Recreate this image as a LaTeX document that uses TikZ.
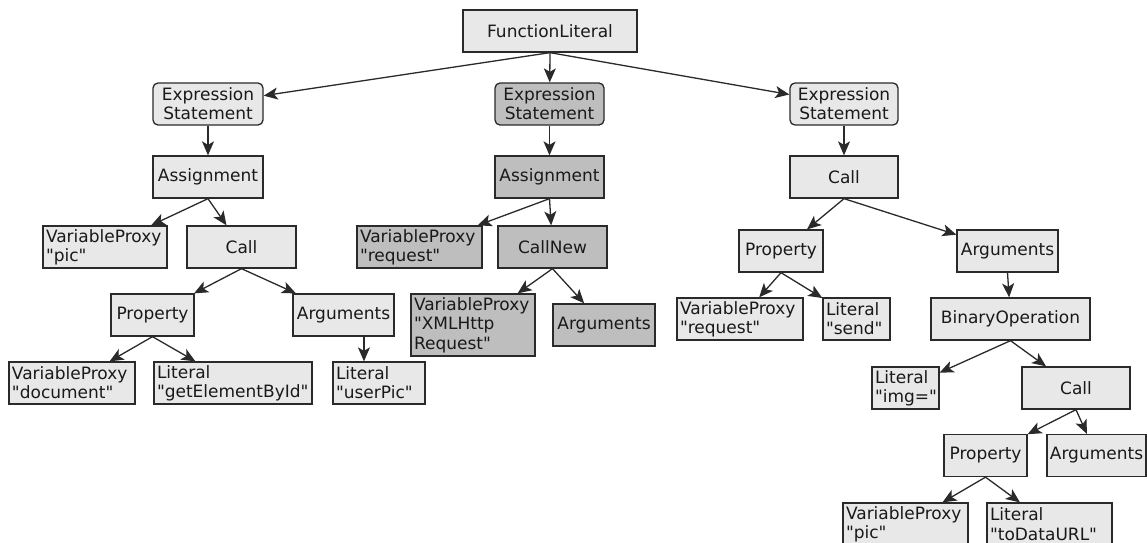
\documentclass[tikz,border=0pt]{standalone}
\usepackage{fontspec}
\newfontfamily\nodefont{DejaVu Sans}
\usetikzlibrary{arrows.meta,calc}
\definecolor{nodelight}{HTML}{E8E8E8}
\definecolor{nodedark}{HTML}{BEBEBE}
\definecolor{inkline}{HTML}{2A2A2A}
\begin{document}
\begin{tikzpicture}[x=1pt,y=-1pt,
  box/.style={draw=inkline, line width=1.3pt, fill=nodelight, inner sep=0pt,
    minimum height=42pt, font=\nodefont\fontsize{17}{19.3}\selectfont, text=black!90},
  dark/.style={fill=nodedark},
  stmt/.style={box, rounded corners=5pt, align=center},
  leaf/.style={box, align=left, inner xsep=3pt},
  arr/.style={draw=inkline, line width=1.3pt,
    -{Stealth[length=14pt,width=12pt,inset=3.5pt]}}]
\useasboundingbox (0,0) rectangle (1147,542);
\clip (0,0) rectangle (1147,542);

% root
\node[box, minimum width=174pt] (fl) at (550,31) {FunctionLiteral};

% statements
\node[stmt, minimum width=110pt] (es1) at (208,104) {Expression\\Statement};
\node[stmt, dark, minimum width=109pt] (es2) at (549.5,104) {Expression\\Statement};
\node[stmt, minimum width=108pt] (es3) at (844,104) {Expression\\Statement};

% first statement: pic = document.getElementById("userPic")
\node[box, minimum width=110pt] (as1) at (208,177) {Assignment};
\node[leaf, text width=118pt] (vppic) at (105,247) {VariableProxy\\"pic"};
\node[box, minimum width=109pt] (call1) at (241.5,247) {Call};
\node[box, minimum width=83pt] (prop1) at (152.5,315) {Property};
\node[box, minimum width=101pt] (args1) at (343.5,315) {Arguments};
\node[leaf, text width=120pt] (vpdoc) at (72,383) {VariableProxy\\"document"};
\node[leaf, text width=152pt] (litgebi) at (233,383) {Literal\\"getElementById"};
\node[leaf, text width=86pt] (lituser) at (379,383) {Literal\\"userPic"};

% second statement: request = new XMLHttpRequest()
\node[box, dark, minimum width=109pt] (as2) at (549.5,177) {Assignment};
\node[leaf, dark, text width=119pt] (vpreq) at (419.5,247) {VariableProxy\\"request"};
\node[box, dark, minimum width=109pt] (callnew) at (552.5,247) {CallNew};
\node[leaf, dark, text width=118pt, minimum height=62pt] (vpxhr) at (473,325) {VariableProxy\\"XMLHttp\\Request"};
\node[box, dark, minimum width=102pt] (args2) at (604,325) {Arguments};

% third statement: request.send("img=" + pic.toDataURL())
\node[box, minimum width=108pt] (call3) at (844,177) {Call};
\node[box, minimum width=84pt] (prop3) at (781,251) {Property};
\node[box, minimum width=101pt] (args3) at (1007.5,251) {Arguments};
\node[leaf, text width=120pt] (vpreq3) at (740,319) {VariableProxy\\"request"};
\node[leaf, text width=61pt] (litsend) at (856.5,319) {Literal\\"send"};
\node[box, minimum width=159pt] (binop) at (1010.5,319) {BinaryOperation};
\node[leaf, text width=61pt] (litimg) at (905.5,388) {Literal\\"img="};
\node[box, minimum width=108pt] (call4) at (1076,388) {Call};
\node[box, minimum width=83pt] (prop4) at (985.5,455.5) {Property};
\node[box, minimum width=99pt] (args4) at (1096.5,455.5) {Arguments};
\node[leaf, text width=119pt] (vppic4) at (905.5,524) {VariableProxy\\"pic"};
\node[leaf, text width=119pt] (littdu) at (1049.5,524) {Literal\\"toDataURL"};

% edges
\draw[arr] (fl.south) -- (es1);
\draw[arr] (fl.south) -- (es2);
\draw[arr] (fl.south) -- (es3);

\draw[arr] (es1.south) -- (as1);
\draw[arr] (as1.south) -- (vppic);
\draw[arr] (as1.south) -- (call1);
\draw[arr] (call1.south) -- (prop1);
\draw[arr] (call1.south) -- (args1);
\draw[arr] (prop1.south) -- (vpdoc);
\draw[arr] (prop1.south) -- (litgebi);
\coordinate (a1s) at ($(args1.south)!0.4!(args1.south east)$);
\draw[arr] (a1s) -- (a1s |- lituser.north);

\draw[arr] (es2.south) -- (as2);
\draw[arr] (as2.south) -- (vpreq);
\draw[arr] (as2.south) -- (callnew);
\draw[arr] (callnew.south) -- (vpxhr);
\draw[arr] (callnew.south) -- (args2);

\draw[arr] (es3.south) -- (call3);
\draw[arr] (call3.south) -- (prop3);
\draw[arr] (call3.south) -- (args3);
\draw[arr] (prop3.south) -- (vpreq3);
\draw[arr] (prop3.south) -- (litsend);
\draw[arr] (args3.south) -- (binop);
\draw[arr] (binop.south) -- (litimg);
\draw[arr] (binop.south) -- (call4);
\draw[arr] (call4.south) -- (prop4);
\draw[arr] (call4.south) -- (args4);
\draw[arr] (prop4.south) -- (vppic4);
\draw[arr] (prop4.south) -- (littdu);
\end{tikzpicture}
\end{document}
